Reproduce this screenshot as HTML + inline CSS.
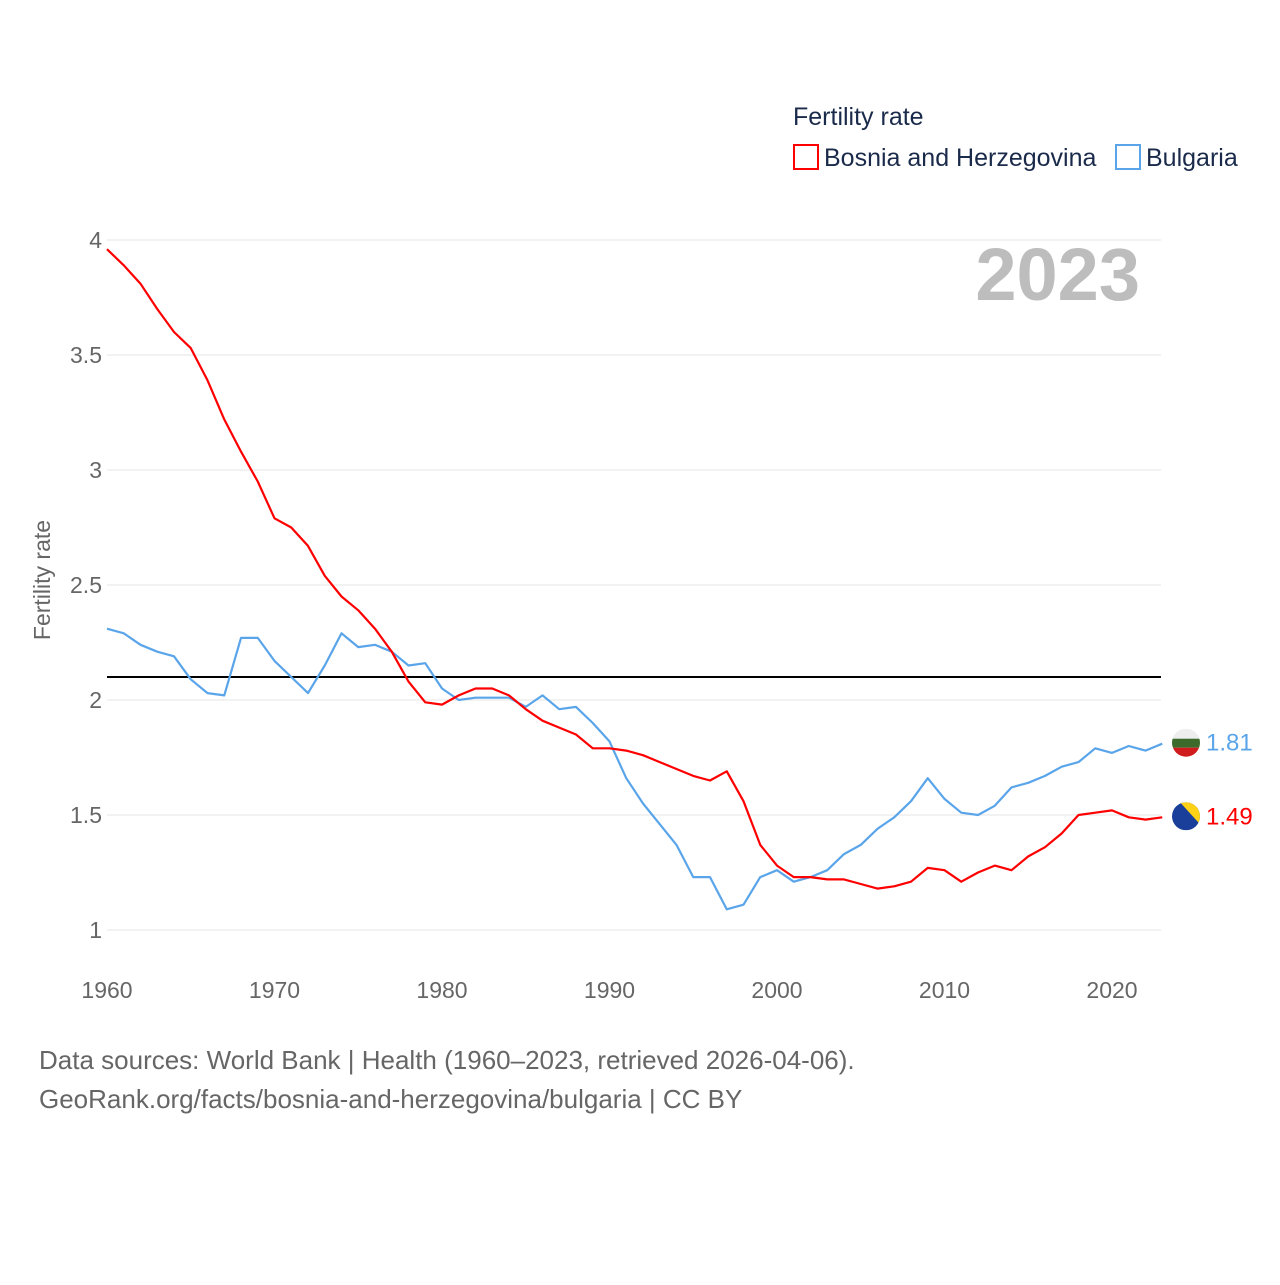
<!DOCTYPE html>
<html><head><meta charset="utf-8"><style>
body{margin:0;background:#fff;font-family:"Liberation Sans",sans-serif;}
</style></head><body>
<svg id="chart" width="1280" height="1280" viewBox="0 0 1280 1280" xmlns="http://www.w3.org/2000/svg">
<text x="793" y="125" font-size="25" fill="#1a2a4a">Fertility rate</text>
<rect x="794" y="145" width="24" height="24" fill="none" stroke="#ff0000" stroke-width="2"/>
<text x="824" y="166" font-size="25" fill="#1a2a4a">Bosnia and Herzegovina</text>
<rect x="1116" y="145" width="24" height="24" fill="none" stroke="#5aa5ea" stroke-width="2"/>
<text x="1146" y="166" font-size="25" fill="#1a2a4a">Bulgaria</text>
<text x="1140" y="300" font-size="74" font-weight="bold" fill="#bdbdbd" text-anchor="end" letter-spacing="0">2023</text>
<g id="grid"></g><g id="series"></g>
<text transform="translate(50,580) rotate(-90)" font-size="23" fill="#666" text-anchor="middle">Fertility rate</text>
<text x="39" y="1069" font-size="26" fill="#666">Data sources: World Bank | Health (1960–2023, retrieved 2026-04-06).</text>
<text x="39" y="1108" font-size="26" fill="#666">GeoRank.org/facts/bosnia-and-herzegovina/bulgaria | CC BY</text>
</svg>
<script>
const years=[];for(let y=1960;y<=2023;y++)years.push(y);
const bih=[3.96,3.89,3.81,3.70,3.60,3.53,3.39,3.22,3.08,2.95,2.79,2.75,2.67,2.54,2.45,2.39,2.31,2.21,2.08,1.99,1.98,2.02,2.05,2.05,2.02,1.96,1.91,1.88,1.85,1.79,1.79,1.78,1.76,1.73,1.70,1.67,1.65,1.69,1.56,1.37,1.28,1.23,1.23,1.22,1.22,1.20,1.18,1.19,1.21,1.27,1.26,1.21,1.25,1.28,1.26,1.32,1.36,1.42,1.50,1.51,1.52,1.49,1.48,1.49];
const bgr=[2.31,2.29,2.24,2.21,2.19,2.09,2.03,2.02,2.27,2.27,2.17,2.10,2.03,2.15,2.29,2.23,2.24,2.21,2.15,2.16,2.05,2.00,2.01,2.01,2.01,1.97,2.02,1.96,1.97,1.90,1.82,1.66,1.55,1.46,1.37,1.23,1.23,1.09,1.11,1.23,1.26,1.21,1.23,1.26,1.33,1.37,1.44,1.49,1.56,1.66,1.57,1.51,1.50,1.54,1.62,1.64,1.67,1.71,1.73,1.79,1.77,1.80,1.78,1.81];
const yTicks=[1,1.5,2,2.5,3,3.5,4];
const yTickLabels=["1","1.5","2","2.5","3","3.5","4"];
const xTicks=[1960,1970,1980,1990,2000,2010,2020];
const replacement=2.1;
const NS="http://www.w3.org/2000/svg";
const X=y=>107+(y-1960)*16.75;
const Y=v=>930-(v-1)*230;
const grid=document.getElementById('grid'),ser=document.getElementById('series');
function mk(tag,at,parent){const e=document.createElementNS(NS,tag);for(const k in at)e.setAttribute(k,at[k]);parent.appendChild(e);return e;}
yTicks.forEach((t,i)=>{
 const l=mk('line',{x1:107,x2:1161,y1:Y(t),y2:Y(t),stroke:'#e6e6e6','stroke-width':1},grid);
 
 
 const tx=mk('text',{x:102,y:Y(t)+8,'font-size':23,fill:'#666','text-anchor':'end'},grid);
 tx.textContent=yTickLabels[i];
 
 
});
xTicks.forEach(t=>{
 const tx=mk('text',{x:X(t),y:998,'font-size':23,fill:'#666','text-anchor':'middle'},grid);
 tx.textContent=t;
 
 
});
const rl=mk('line',{x1:107,x2:1161,y1:Y(replacement),y2:Y(replacement),stroke:'#000','stroke-width':2},ser);


function line(vals,color,name){
 const p=mk('polyline',{points:vals.map((v,i)=>X(years[i])+','+Y(v)).join(' '),fill:'none',stroke:color,'stroke-width':2.2,'stroke-linejoin':'round'},ser);
 
 
}
line(bgr,'#5aa5ea','bulgaria-line');
line(bih,'#ff0000','bih-line');
function endLabel(vals,color,name,flag){
 const v=vals[vals.length-1],cy=Y(v)-1,cx=1186;
 const g=mk('g',{},ser);
 
 
 if(flag==='bg'){
  mk('clipPath',{id:'cbg'},g);mk('circle',{cx:cx,cy:cy,r:14},g.lastChild);
  const gg=mk('g',{'clip-path':'url(#cbg)'},g);
  mk('rect',{x:cx-14,y:cy-14,width:28,height:10,fill:'#eee'},gg);
  mk('rect',{x:cx-14,y:cy-4,width:28,height:9,fill:'#3d6b2c'},gg);
  mk('rect',{x:cx-14,y:cy+5,width:28,height:10,fill:'#d01c1c'},gg);
 }else{
  mk('clipPath',{id:'cba'},g);mk('circle',{cx:cx,cy:cy,r:14},g.lastChild);
  const gg=mk('g',{'clip-path':'url(#cba)'},g);
  mk('rect',{x:cx-14,y:cy-14,width:28,height:28,fill:'#1a3f9a'},gg);
  mk('polygon',{points:`${cx-6},${cy-14} ${cx+14},${cy-14} ${cx+14},${cy+8}`,fill:'#fcd116'},gg);
 }
 const t=mk('text',{x:1206,y:cy+8,'font-size':24,fill:color},ser);
 t.textContent=v.toFixed(2);
 
 
}
endLabel(bgr,'#5aa5ea','bulgaria','bg');
endLabel(bih,'#ff0000','bih','ba');
</script>
</body></html>
